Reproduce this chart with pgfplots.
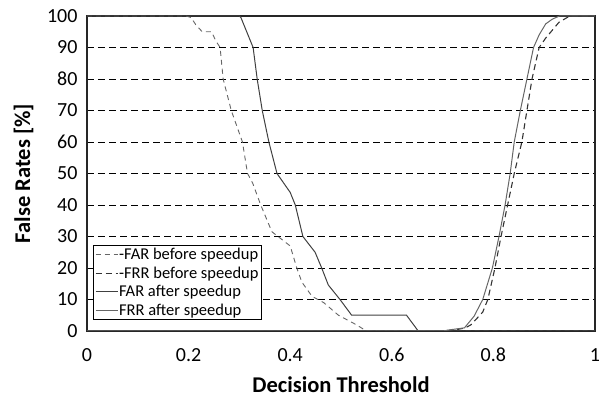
\documentclass[border=0pt]{standalone}
\usepackage{fontspec}
\setmainfont{Carlito}
\usepackage{pgfplots}
\pgfplotsset{compat=1.18}

% threshold, rate [%]
\pgfplotstableread{
x y
0     100
0.195 100
0.205 99.5
0.215 97
0.227 95
0.245 95
0.254 92
0.262 90
0.268 80
0.284 70
0.306 60
0.316 50
0.326 47
0.342 40
0.364 31.5
0.400 27
0.413 20
0.423 15.5
0.443 11
0.466 9
0.495 5
0.530 2
0.550 0
1     0
}\farbefore
\pgfplotstableread{
x y
0     0
0.700 0
0.730 0.5
0.745 1
0.756 2
0.779 6
0.789 10
0.803 20
0.815 30
0.828 40
0.841 50
0.856 60
0.866 70
0.876 80
0.890 90
0.903 93
0.929 98
0.945 99.5
0.950 100
1     100
}\frrbefore
\pgfplotstableread{
x y
0     100
0.300 100
0.303 99.5
0.327 90
0.335 80
0.345 70
0.358 60
0.374 50
0.400 44
0.410 40
0.425 30
0.449 25
0.462 20
0.475 14.6
0.498 10
0.521 5
0.629 5
0.652 0
1     0
}\farafter
\pgfplotstableread{
x y
0     0
0.700 0
0.720 0.5
0.743 1
0.762 4.7
0.779 10
0.798 20
0.811 30
0.823 40
0.833 50
0.841 60
0.853 70
0.866 80
0.879 90
0.890 94
0.903 97.5
0.916 99
0.930 100
1     100
}\frrafter

\begin{document}
\begin{tikzpicture}
\begin{axis}[name=ax, scale only axis, width=508pt, height=315pt,
  xmin=0, xmax=1, ymin=0, ymax=100,
  xtick={0,0.2,0.4,0.6,0.8,1}, xticklabels={0,0.2,0.4,0.6,0.8,1},
  ytick={0,10,...,100},
  /pgf/number format/assume math mode=true,
  ymajorgrids, grid style={black, line width=0.9pt, dash pattern=on 7pt off 4pt},
  major tick length=0pt,
  axis line style={line width=1.2pt, black!85},
  ticklabel style={font=\fontsize{20}{22}\selectfont},
  xticklabel style={anchor=center, yshift=-24pt},
  yticklabel style={anchor=east, xshift=-6pt},
  xlabel={Decision Threshold}, ylabel={False Rates [\%]},
  label style={font=\fontsize{22.5}{25}\selectfont\bfseries},
  xlabel style={at={(axis description cs:0.5,-0.171)}, anchor=center},
  ylabel style={at={(axis description cs:-0.125,0.5)}, anchor=center},
  legend style={at={(axis description cs:0.012,0.035)}, anchor=south west,
    draw=black, line width=0.8pt, font=\fontsize{16.5}{18}\selectfont,
    inner sep=1.5pt, row sep=2.5pt, nodes={inner xsep=1pt, inner ysep=1.5pt}},
  legend cell align=left,
  legend image code/.code={\draw[#1] (0pt,0pt) -- (22pt,0pt);},
]
\addplot[black!60, line width=0.9pt, dash pattern=on 5pt off 4pt] table {\farbefore};
\addlegendentry{-FAR before speedup}
\addplot[black!80, line width=1.1pt, dash pattern=on 6pt off 4pt] table {\frrbefore};
\addlegendentry{-FRR before speedup}
\addplot[black!75, line width=1pt] table {\farafter};
\addlegendentry{FAR after speedup}
\addplot[black!60, line width=1pt] table {\frrafter};
\addlegendentry{FRR after speedup}
\end{axis}
\pgfresetboundingbox
\path[use as bounding box] ([xshift=-87pt,yshift=-69pt]ax.south west) rectangle ([xshift=6pt,yshift=16pt]ax.north east);
\end{tikzpicture}
\end{document}
